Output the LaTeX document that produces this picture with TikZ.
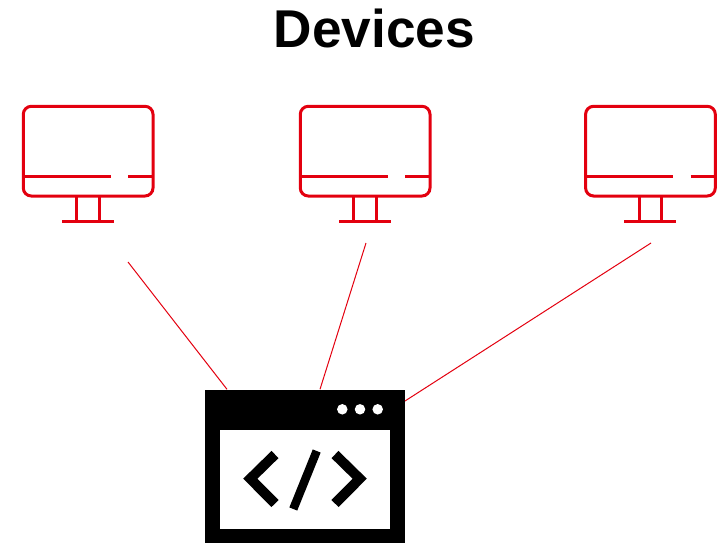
\documentclass[tikz,border=0pt]{standalone}
\usepackage{fontspec}
\setmainfont{Liberation Sans}
\definecolor{devred}{HTML}{E3000F}
\tikzset{
  screenbox/.style={draw=devred,line width=3pt,rounded corners=8pt},
  screenline/.style={draw=devred,line width=3pt},
  link/.style={draw=devred,line width=1pt},
  windowbody/.style={draw=none,fill=black},
  windowpane/.style={draw=none,fill=white},
  glyph/.style={draw=black,line width=10pt,miter limit=10},
  dotmark/.style={fill=white,draw=none,circle,minimum size=10.5pt,inner sep=0pt},
  title/.style={font=\fontsize{53.2}{60}\selectfont\bfseries,anchor=base,inner sep=0pt}
}
\newcommand{\monitor}[2]{%
  \begin{scope}[shift={(#1,0)}]
    \node[screenbox,minimum width=129.7pt,minimum height=89.7pt,inner sep=0pt,anchor=north west,outer sep=0pt] (#2) at (23.3,106.3) {};
    \draw[screenline] (23.3,176.3) -- (110.7,176.3);
    \draw[screenline] (128.3,176.3) -- (153,176.3);
    \draw[screenline] (76.7,195.7) -- (76.7,221.7);
    \draw[screenline] (99.3,195.7) -- (99.3,221.7);
    \draw[screenline] (62,221.7) -- (114,221.7);
  \end{scope}}
\begin{document}
\begin{tikzpicture}[x=1pt,y=-1pt]
  \useasboundingbox (0,0) rectangle (720,543);
  \clip (0,0) rectangle (720,543);
  \node[title] (heading) at (374.5,47.5) {Devices};
  \monitor{0}{monA}
  \monitor{277}{monB}
  \monitor{562.3}{monC}
  \coordinate (fromA) at (128,262);
  \coordinate (fromB) at (366,243);
  \coordinate (fromC) at (651,243);
  \node[windowbody,minimum width=200pt,minimum height=180pt,inner sep=0pt,anchor=north west] (win) at (205,389.3) {};
  \coordinate (toA) at (227,389.3);
  \coordinate (toB) at (320,389.3);
  \coordinate (toC) at (405,401);
  \draw[link] (fromA) -- (toA);
  \draw[link] (fromB) -- (toB);
  \draw[link] (fromC) -- (toC);
  \node[windowpane,minimum width=170.3pt,minimum height=99.4pt,inner sep=0pt,anchor=north west] (pane) at (219.7,429.3) {};
  \node[dotmark] (d1) at (342.3,409.3) {};
  \node[dotmark] (d2) at (360,409.3) {};
  \node[dotmark] (d3) at (377.7,409.3) {};
  \draw[glyph] (275,454.5) -- (250.3,478.7) -- (275,503.5);
  \draw[glyph] (335,454.5) -- (359.7,478.7) -- (335,503.5);
  \draw[glyph,line width=8.5pt] (316.7,451) -- (293.3,509);
\end{tikzpicture}
\end{document}
